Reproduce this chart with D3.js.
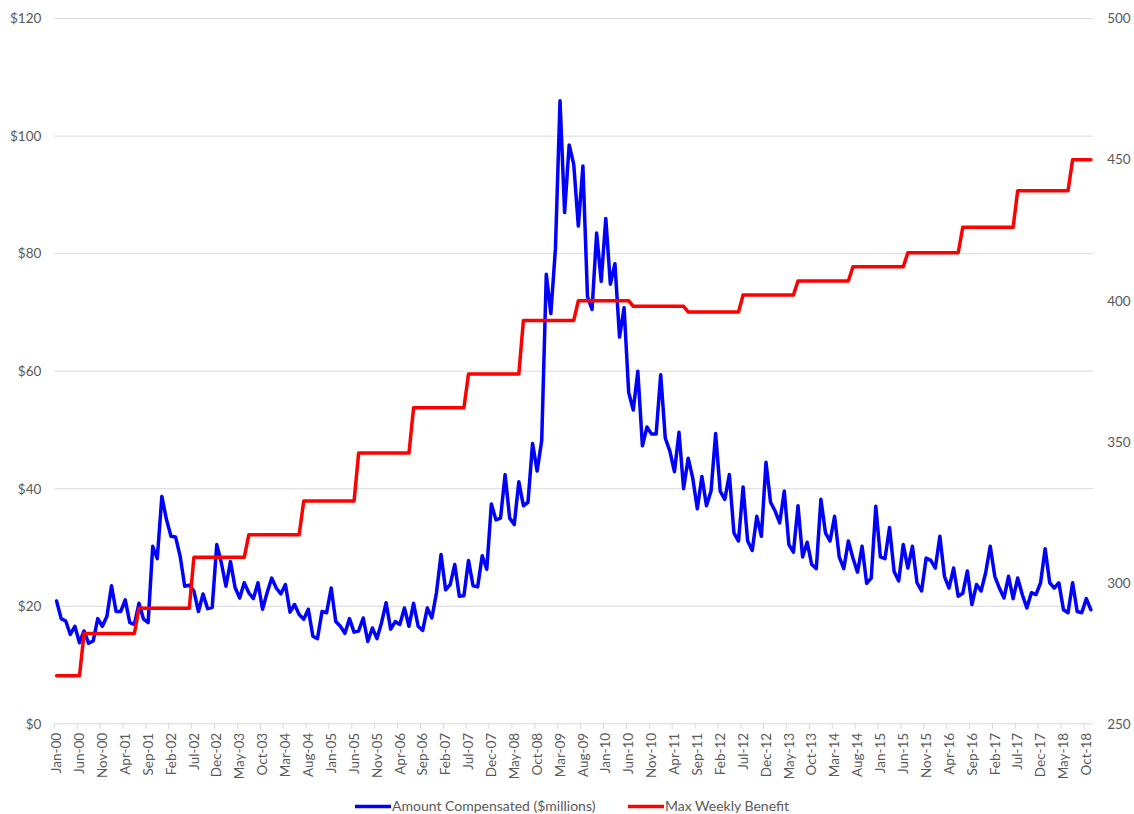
<!DOCTYPE html>
<html>
<head>
<meta charset="utf-8">
<script src="https://cdn.jsdelivr.net/npm/d3@7/dist/d3.min.js"></script>
<style>
  html, body { margin: 0; padding: 0; background: #ffffff; }
  svg { display: block; }
  text { font-family: Lato, "Open Sans", "Liberation Sans", sans-serif; }
</style>
</head>
<body>
<svg id="chart" width="1134" height="814"></svg>
<script>
// ---- DATA ----
// Monthly categories: Jan-2000 .. Nov-2018 (227 months)
const months = d3.timeMonth.range(new Date(2000, 0, 1), new Date(2018, 11, 1));

// Amount Compensated ($ millions), one value per month
const amountCompensated = [
  20.9, 17.9, 17.5, 15.2, 16.6, 13.8, 15.8, 13.7, 14.1, 17.9, 16.6, 18.3,
  23.5, 19.1, 19.1, 21.1, 17.2, 16.9, 20.5, 17.8, 17.2, 30.2, 28.1, 38.7,
  34.8, 31.9, 31.8, 28.5, 23.4, 23.6, 22.6, 19.1, 22.1, 19.6, 19.8, 30.5,
  27.4, 23.4, 27.6, 23.2, 21.4, 24.0, 22.3, 21.3, 24.0, 19.5, 22.3, 24.8,
  23.1, 22.1, 23.7, 19.0, 20.3, 18.6, 17.8, 19.5, 14.9, 14.5, 19.1, 18.9,
  23.1, 17.4, 16.6, 15.4, 17.9, 15.6, 15.8, 18.0, 14.0, 16.3, 14.5, 17.2,
  20.6, 16.1, 17.4, 16.9, 19.7, 16.6, 20.5, 16.6, 15.9, 19.7, 18.0, 22.3,
  28.8, 22.8, 23.7, 27.1, 21.7, 21.8, 27.8, 23.5, 23.3, 28.6, 26.3, 37.4,
  34.7, 35.0, 42.4, 35.0, 33.9, 41.2, 37.1, 37.7, 47.7, 43.0, 48.2, 76.5,
  69.8, 80.9, 106.0, 87.0, 98.5, 95.2, 84.7, 94.9, 72.7, 70.5, 83.5, 75.3,
  86.0, 74.8, 78.3, 65.8, 70.8, 56.4, 53.4, 60.0, 47.3, 50.5, 49.3, 49.3,
  59.4, 48.6, 46.4, 42.9, 49.6, 40.0, 45.2, 41.8, 36.6, 42.1, 37.1, 39.6,
  49.4, 39.6, 38.2, 42.4, 32.5, 31.1, 40.3, 31.1, 29.5, 35.3, 31.9, 44.5,
  37.7, 36.2, 34.2, 39.6, 30.5, 29.2, 37.1, 28.4, 30.9, 27.1, 26.4, 38.2,
  32.5, 31.1, 35.3, 28.4, 26.4, 31.1, 28.2, 25.8, 30.2, 23.9, 24.8, 37.0,
  28.4, 28.1, 33.4, 25.9, 24.3, 30.5, 26.5, 30.2, 24.0, 22.6, 28.2, 27.8,
  26.5, 31.9, 25.1, 23.1, 26.5, 21.7, 22.2, 26.0, 20.3, 23.7, 22.6, 25.7,
  30.2, 25.1, 23.1, 21.4, 25.1, 21.3, 24.8, 22.0, 19.7, 22.3, 22.0, 24.0,
  29.8, 24.0, 23.1, 24.0, 19.4, 18.9, 24.0, 19.1, 18.9, 21.3, 19.4
];

// Max Weekly Benefit ($), one value per month
const maxWeeklyBenefit = [
  267, 267, 267, 267, 267, 267, 282, 282, 282, 282, 282, 282,
  282, 282, 282, 282, 282, 282, 291, 291, 291, 291, 291, 291,
  291, 291, 291, 291, 291, 291, 309, 309, 309, 309, 309, 309,
  309, 309, 309, 309, 309, 309, 317, 317, 317, 317, 317, 317,
  317, 317, 317, 317, 317, 317, 329, 329, 329, 329, 329, 329,
  329, 329, 329, 329, 329, 329, 346, 346, 346, 346, 346, 346,
  346, 346, 346, 346, 346, 346, 362, 362, 362, 362, 362, 362,
  362, 362, 362, 362, 362, 362, 374, 374, 374, 374, 374, 374,
  374, 374, 374, 374, 374, 374, 393, 393, 393, 393, 393, 393,
  393, 393, 393, 393, 393, 393, 400, 400, 400, 400, 400, 400,
  400, 400, 400, 400, 400, 400, 398, 398, 398, 398, 398, 398,
  398, 398, 398, 398, 398, 398, 396, 396, 396, 396, 396, 396,
  396, 396, 396, 396, 396, 396, 402, 402, 402, 402, 402, 402,
  402, 402, 402, 402, 402, 402, 407, 407, 407, 407, 407, 407,
  407, 407, 407, 407, 407, 407, 412, 412, 412, 412, 412, 412,
  412, 412, 412, 412, 412, 412, 417, 417, 417, 417, 417, 417,
  417, 417, 417, 417, 417, 417, 426, 426, 426, 426, 426, 426,
  426, 426, 426, 426, 426, 426, 439, 439, 439, 439, 439, 439,
  439, 439, 439, 439, 439, 439, 450, 450, 450, 450, 450
];

// X-axis tick labels (every 5th month)
const tickLabels = [
  "Jan-00","Jun-00","Nov-00","Apr-01","Sep-01","Feb-02","Jul-02","Dec-02","May-03","Oct-03",
  "Mar-04","Aug-04","Jan-05","Jun-05","Nov-05","Apr-06","Sep-06","Feb-07","Jul-07","Dec-07",
  "May-08","Oct-08","Mar-09","Aug-09","Jan-10","Jun-10","Nov-10","Apr-11","Sep-11","Feb-12",
  "Jul-12","Dec-12","May-13","Oct-13","Mar-14","Aug-14","Jan-15","Jun-15","Nov-15","Apr-16",
  "Sep-16","Feb-17","Jul-17","Dec-17","May-18","Oct-18"
];

const leftTicks = [0, 20, 40, 60, 80, 100, 120];
const rightTicks = [250, 300, 350, 400, 450, 500];

const seriesNames = ["Amount Compensated ($millions)", "Max Weekly Benefit"];
const seriesColors = ["#0000ff", "#ff0000"];

// ---- CHART ----
const svg = d3.select("#chart");
const xLeft = 54.3, xRight = 1093.2, yBottom = 723.8, yTop = 18.6;

const x = d3.scaleBand().domain(d3.range(months.length)).range([xLeft, xRight]).padding(0);
const xc = i => x(i) + x.bandwidth() / 2;
const yL = d3.scaleLinear().domain([0, 120]).range([yBottom, yTop]);
const yR = d3.scaleLinear().domain([250, 500]).range([yBottom, yTop]);

const gridColor = "#d9d9d9";
const textColor = "#595959";
const fontFam = "Lato, 'Open Sans', sans-serif";

// gridlines
svg.append("g").selectAll("line").data(leftTicks.filter(d => d > 0)).join("line")
  .attr("x1", xLeft).attr("x2", xRight)
  .attr("y1", d => yL(d)).attr("y2", d => yL(d))
  .attr("stroke", gridColor).attr("stroke-width", 1);

// left axis labels
const gl = svg.append("g").attr("transform", `translate(${xLeft},0)`)
  .call(d3.axisLeft(yL).tickValues(leftTicks).tickSize(0).tickPadding(13)
    .tickFormat(d => "$" + d));
gl.select(".domain").remove();
gl.selectAll("text").attr("fill", textColor).style("font-size", "13.5px")
  .style("font-family", fontFam);

// right axis labels
const gr = svg.append("g").attr("transform", `translate(${xRight},0)`)
  .call(d3.axisRight(yR).tickValues(rightTicks).tickSize(0).tickPadding(14));
gr.select(".domain").remove();
gr.selectAll("text").attr("fill", textColor).style("font-size", "13.5px")
  .style("font-family", fontFam);

// bottom axis line
svg.append("line").attr("x1", xLeft).attr("x2", xRight)
  .attr("y1", yBottom).attr("y2", yBottom)
  .attr("stroke", gridColor).attr("stroke-width", 1);

// tick marks at category boundaries every 5 months
const tickIdx = d3.range(0, months.length, 5);
svg.append("g").selectAll("line").data(tickIdx).join("line")
  .attr("x1", i => x(i)).attr("x2", i => x(i))
  .attr("y1", yBottom).attr("y2", yBottom + 5)
  .attr("stroke", gridColor).attr("stroke-width", 1);

// tick labels at category centres, rotated
svg.append("g").selectAll("text").data(tickIdx).join("text")
  .attr("transform", i => `translate(${xc(i) + 4.7},${yBottom + 9}) rotate(-90)`)
  .attr("text-anchor", "end")
  .attr("fill", textColor)
  .style("font-size", "13.5px")
  .text((i, k) => tickLabels[k]);

// lines
const lineL = d3.line().x((d, i) => xc(i)).y(d => yL(d));
const lineR = d3.line().x((d, i) => xc(i)).y(d => yR(d));

svg.append("path").datum(amountCompensated)
  .attr("d", lineL).attr("fill", "none")
  .attr("stroke", seriesColors[0]).attr("stroke-width", 3.5)
  .attr("stroke-linejoin", "round").attr("stroke-linecap", "round");

svg.append("path").datum(maxWeeklyBenefit)
  .attr("d", lineR).attr("fill", "none")
  .attr("stroke", seriesColors[1]).attr("stroke-width", 3.5)
  .attr("stroke-linejoin", "round").attr("stroke-linecap", "round");

// legend
const legendY = 806.5;
const legendItems = [
  { name: seriesNames[0], color: seriesColors[0], x0: 355 },
  { name: seriesNames[1], color: seriesColors[1], x0: 628 }
];
const lg = svg.append("g");
legendItems.forEach(it => {
  lg.append("line").attr("x1", it.x0).attr("x2", it.x0 + 36)
    .attr("y1", legendY).attr("y2", legendY)
    .attr("stroke", it.color).attr("stroke-width", 3.5);
  lg.append("text").attr("x", it.x0 + 37).attr("y", legendY)
    .attr("dy", "0.35em").attr("fill", textColor)
    .style("font-size", "14px").text(it.name);
});
</script>
</body>
</html>
